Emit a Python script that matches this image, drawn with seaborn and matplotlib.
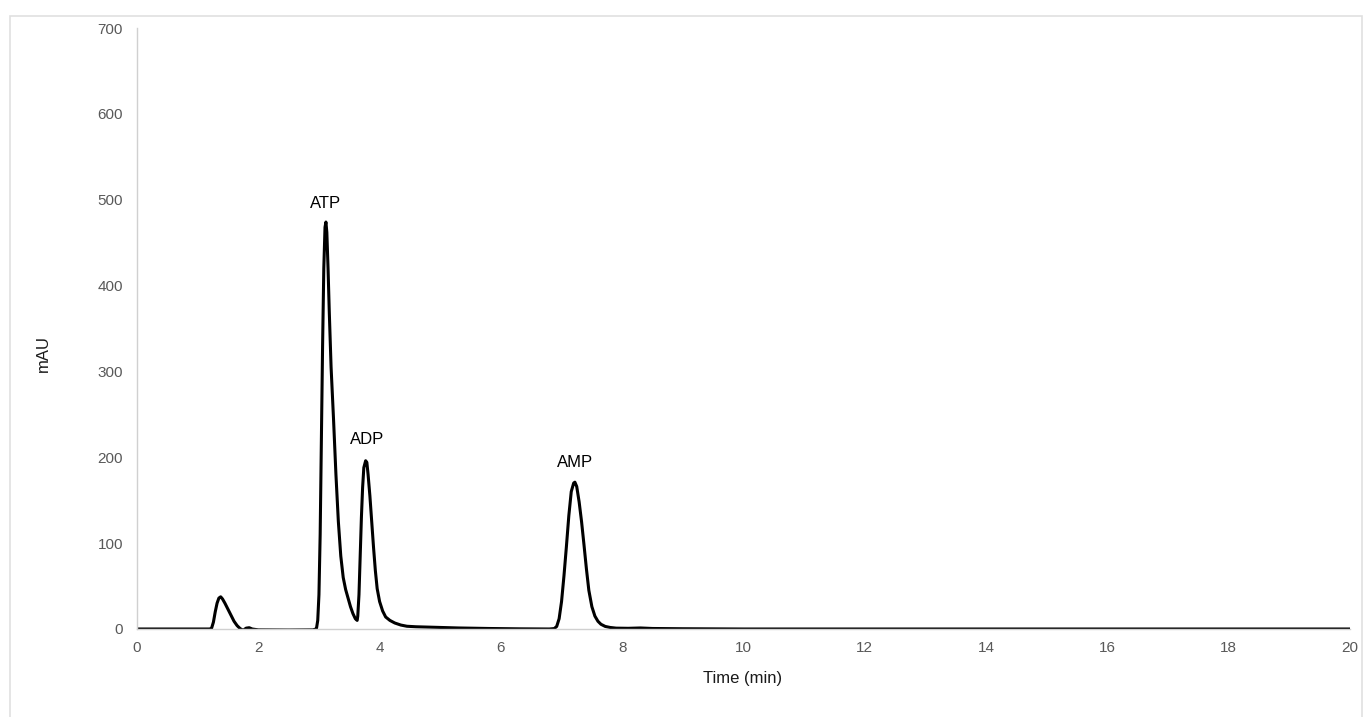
import numpy as np
import pandas as pd
import matplotlib
matplotlib.use("Agg")
import matplotlib.pyplot as plt
import seaborn as sns
from matplotlib.patches import Rectangle

sns.set_theme(style="white")
plt.rcParams['font.family'] = ['Liberation Sans', 'DejaVu Sans']

# Chromatogram values (time in min, absorbance in mAU)
time_min = [0.0, 0.5, 1.0, 1.20, 1.23, 1.26, 1.29, 1.32, 1.35, 1.38, 1.41, 1.45,
            1.50, 1.55, 1.60, 1.65, 1.70, 1.75, 1.80, 1.85, 1.90, 2.0, 2.5, 2.9,
            2.95, 2.96, 2.98, 3.00, 3.02, 3.04, 3.06, 3.08, 3.10, 3.115, 3.13,
            3.15, 3.17, 3.20, 3.24, 3.28, 3.32, 3.36, 3.40, 3.44, 3.48, 3.52,
            3.56, 3.60, 3.63, 3.64, 3.66, 3.68, 3.70, 3.72, 3.74, 3.77, 3.79,
            3.81, 3.84, 3.87, 3.90, 3.93, 3.96, 4.00, 4.05, 4.10, 4.17, 4.25,
            4.35, 4.45, 4.60, 4.90, 5.30, 5.80, 6.30, 6.80, 6.88, 6.92, 6.96,
            7.00, 7.04, 7.08, 7.12, 7.16, 7.20, 7.22, 7.25, 7.29, 7.33, 7.37,
            7.41, 7.45, 7.50, 7.55, 7.60, 7.65, 7.72, 7.80, 7.90, 8.10, 8.30,
            8.50, 9.0, 10.0, 12.0, 14.0, 16.0, 18.0, 20.0]
mau = [0.0, 0.0, 0.0, 0.0, 1.0, 8.0, 20.0, 30.0, 36.0, 37.5, 35.0, 30.0,
       23.0, 16.0, 9.0, 4.0, 0.5, -1.5, 1.0, 1.5, 0.0, -1.0, -1.2, -1.0,
       0.0, 1.0, 10.0, 40.0, 110.0, 220.0, 330.0, 420.0, 468.0, 474.0, 462.0,
       420.0, 370.0, 305.0, 245.0, 180.0, 125.0, 85.0, 60.0, 46.0, 36.0, 26.0,
       18.0, 12.0, 10.0, 15.0, 40.0, 85.0, 130.0, 165.0, 188.0, 196.0, 194.0,
       180.0, 155.0, 125.0, 95.0, 68.0, 47.0, 32.0, 21.0, 14.0, 10.0, 7.0,
       4.6, 3.2, 2.6, 2.0, 1.2, 0.6, 0.2, 0.0, 0.5, 3.0, 12.0,
       32.0, 62.0, 96.0, 132.0, 160.0, 170.0, 171.0, 166.0, 148.0, 125.0, 98.0,
       70.0, 45.0, 26.0, 15.0, 9.0, 5.5, 3.0, 1.8, 1.0, 0.8, 1.2,
       0.6, 0.3, 0.0, 0.0, 0.0, 0.0, 0.0, 0.0]

peak_names = ["ATP", "ADP", "AMP"]
peak_label_x = [3.116, 3.79, 7.22]
peak_label_y = [496, 221, 194]

x_ticks = [0, 2, 4, 6, 8, 10, 12, 14, 16, 18, 20]
y_ticks = [0, 100, 200, 300, 400, 500, 600, 700]

df = pd.DataFrame({"Time (min)": time_min, "mAU": mau})

fig = plt.figure(figsize=(13.63, 7.17), dpi=100)
ax = fig.add_axes([137/1363, 1-629/717, (1350-137)/1363, (629-28)/717])

sns.lineplot(data=df, x="Time (min)", y="mAU", ax=ax, color="black",
             linewidth=2.2, sort=False)

ax.set_xlim(0, 20)
ax.set_ylim(0, 700)
ax.set_xticks(x_ticks)
ax.set_yticks(y_ticks)
ax.set_xticklabels([str(t) for t in x_ticks])
ax.set_yticklabels([str(t) for t in y_ticks])
ax.tick_params(axis='both', length=0, labelsize=11, labelcolor="#595959")
ax.tick_params(axis='x', pad=9)
ax.tick_params(axis='y', pad=10)

for s in ["top", "right"]:
    ax.spines[s].set_visible(False)
for s in ["left", "bottom"]:
    ax.spines[s].set_color("#d0d0d0")
    ax.spines[s].set_linewidth(1.0)

ax.set_xlabel("Time (min)", fontsize=12, color="#1a1a1a")
ax.set_ylabel("mAU", fontsize=12, color="#1a1a1a")
ax.xaxis.set_label_coords((743-137)/1213, (629-678)/601)
ax.yaxis.set_label_coords((43-137)/1213, (629-353)/601)
ax.xaxis.label.set_va("center")
ax.yaxis.label.set_va("center")

for name, lx, ly in zip(peak_names, peak_label_x, peak_label_y):
    ax.text(lx, ly, name, ha="center", va="center", fontsize=12, color="black")

fig.patches.append(Rectangle((10/1363, -0.05), (1362-10)/1363, 1.05 - 16/717,
                             transform=fig.transFigure, fill=False,
                             edgecolor="#e0e0e0", linewidth=1.2))

fig.savefig("out.png", dpi=100)
